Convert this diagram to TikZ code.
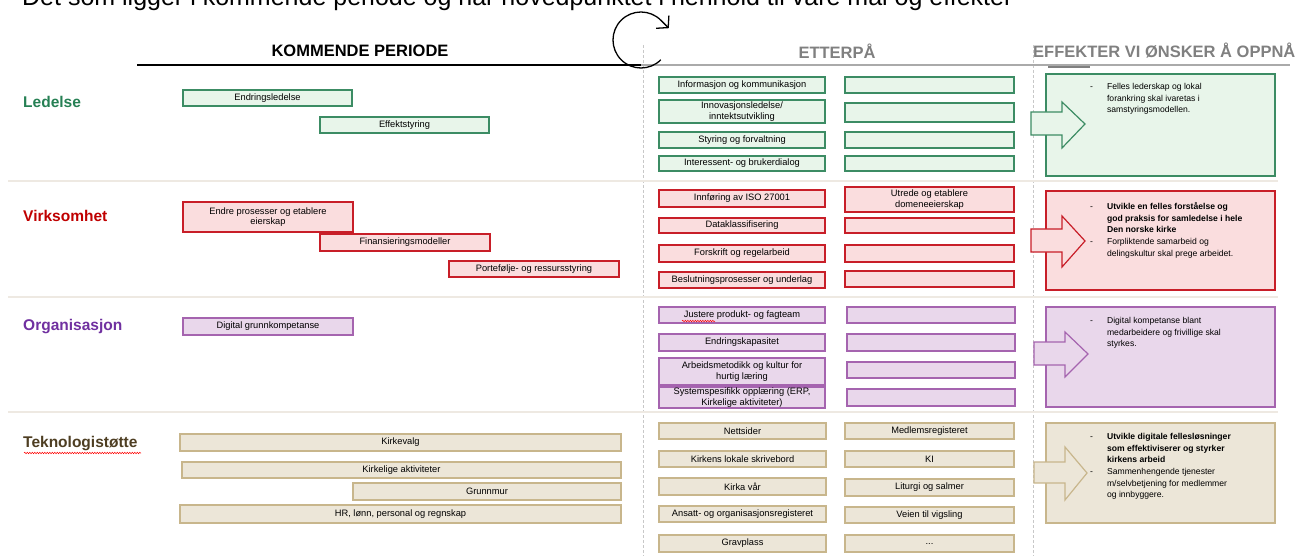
\documentclass[tikz,border=0pt]{standalone}
\usepackage{fontspec}
\setmainfont{Liberation Sans}
\usetikzlibrary{arrows.meta,decorations.pathmorphing}

\definecolor{ledgreen}{RGB}{38,128,84}
\definecolor{ledline}{RGB}{60,140,100}
\definecolor{ledfill}{RGB}{232,245,234}
\definecolor{virred}{RGB}{192,0,0}
\definecolor{virline}{RGB}{200,30,40}
\definecolor{virfill}{RGB}{250,221,222}
\definecolor{orgpurple}{RGB}{112,48,160}
\definecolor{orgline}{RGB}{165,100,175}
\definecolor{orgfill}{RGB}{233,215,235}
\definecolor{tekbrown}{RGB}{78,62,34}
\definecolor{tekline}{RGB}{200,182,140}
\definecolor{tekfill}{RGB}{236,230,216}
\definecolor{sepgray}{RGB}{238,233,226}
\definecolor{dashgray}{RGB}{200,200,200}
\definecolor{headgray}{RGB}{128,128,128}
\definecolor{linegray}{RGB}{170,170,170}

\tikzset{
  pbox/.style={draw, line width=1.2pt, anchor=north west, inner sep=0pt, outer sep=0pt,
    align=center, font=\fontsize{9.3}{10.8}\selectfont},
  gbox/.style={pbox, draw=ledline, fill=ledfill},
  rbox/.style={pbox, draw=virline, fill=virfill},
  pubox/.style={pbox, draw=orgline, fill=orgfill},
  tbox/.style={pbox, draw=tekline, fill=tekfill},
  effbox/.style={draw, line width=1.2pt, anchor=north west, inner sep=0pt, outer sep=0pt},
  efftext/.style={anchor=north west, inner sep=0pt, align=left, font=\fontsize{8.6}{11.7}\selectfont},
  rowlabel/.style={anchor=west, inner sep=0pt, font=\fontsize{15.5}{18}\selectfont\bfseries},
  header/.style={inner sep=0pt, font=\fontsize{16.5}{19}\selectfont\bfseries},
  sepline/.style={draw=sepgray, line width=2pt},
  vdash/.style={draw=dashgray, line width=0.8pt, dash pattern=on 3pt off 2pt},
  spell/.style={draw=red, line width=0.5pt, decorate, decoration={snake, amplitude=0.7pt, segment length=2.5pt}},
}

\begin{document}
\begin{tikzpicture}[x=1pt, y=-1pt]

	\fill[white] (0,0) rectangle (1301,556);
	\useasboundingbox (0,0) rectangle (1301,556);

	\node[anchor=base west, inner sep=0pt, font=\fontsize{25}{30}\selectfont] (title) at (22,6)
		{Det som ligger i kommende periode og når hovedpunktet i henhold til våre mål og effekter};

	\draw[vdash] (643,45) -- (643,556);
	\draw[vdash] (1033,45) -- (1033,556);

	\node[header] (kommende) at (360,51) {KOMMENDE PERIODE};
	\node[header, text=headgray] (etterpa) at (837,51) {ETTERPÅ};
	\node[header, text=headgray, anchor=west] (effekter) at (1033,51) {EFFEKTER VI ØNSKER Å OPPNÅ};

	\draw[line width=1.5pt] (137,65) -- (641,65);
	\draw[line width=1.5pt, draw=linegray] (641,65) -- (1290,65);
	\draw[line width=2pt, draw=gray] (1048,67) -- (1090,67);

	\draw[line width=1.3pt, -{Straight Barb[length=8pt,width=18pt]}]
		(641,40) ++(45:28) arc[start angle=45, end angle=315, radius=28] -- ++(8,8);

	\draw[sepline] (8,181) -- (1278,181);
	\draw[sepline] (8,297) -- (1278,297);
	\draw[sepline] (8,412) -- (1278,412);

	% Ledelse
	\node[rowlabel, text=ledgreen] (ledelse) at (23,102) {Ledelse};
	\node[gbox, minimum width=169, minimum height=16] (endr) at (183,90) {Endringsledelse};
	\node[gbox, minimum width=169, minimum height=16] (effs) at (320,117) {Effektstyring};
	\node[gbox, minimum width=166, minimum height=16] (info) at (659,77) {Informasjon og kommunikasjon};
	\node[gbox, minimum width=166, minimum height=23] (innov) at (659,100) {Innovasjonsledelse/\\inntektsutvikling};
	\node[gbox, minimum width=166, minimum height=16] (styr) at (659,132) {Styring og forvaltning};
	\node[gbox, minimum width=166, minimum height=15] (inter) at (659,156) {Interessent- og brukerdialog};
	\node[gbox, minimum width=169, minimum height=16] (led1) at (845,77) {};
	\node[gbox, minimum width=169, minimum height=19] (led2) at (845,103) {};
	\node[gbox, minimum width=169, minimum height=16] (led3) at (845,132) {};
	\node[gbox, minimum width=169, minimum height=15] (led4) at (845,156) {};
	\node[effbox, draw=ledline, fill=ledfill, minimum width=229, minimum height=102] (ledeff) at (1046,74) {};
	\draw[line width=1.2pt, draw=ledline, fill=ledfill] (1031,112) -- (1062,112) -- (1062,102) -- (1085,124)
		-- (1062,148) -- (1062,135) -- (1031,135) -- cycle;
	\node[efftext] (ledtxt) at (1090,81) {\begin{tabular}{@{}l@{\hspace{14pt}}l@{}}
		- & Felles lederskap og lokal\\
		  & forankring skal ivaretas i\\
		  & samstyringsmodellen.
		\end{tabular}};

	% Virksomhet
	\node[rowlabel, text=virred] (virksomhet) at (23,216) {Virksomhet};
	\node[rbox, minimum width=170, minimum height=30] (endre) at (183,202) {Endre prosesser og etablere\\eierskap};
	\node[rbox, minimum width=170, minimum height=17] (fin) at (320,234) {Finansieringsmodeller};
	\node[rbox, minimum width=170, minimum height=16] (port) at (449,261) {Portefølje- og ressursstyring};
	\node[rbox, minimum width=166, minimum height=17] (iso) at (659,190) {Innføring av ISO 27001};
	\node[rbox, minimum width=166, minimum height=15] (data) at (659,218) {Dataklassifisering};
	\node[rbox, minimum width=166, minimum height=17] (forsk) at (659,245) {Forskrift og regelarbeid};
	\node[rbox, minimum width=166, minimum height=16] (besl) at (659,272) {Beslutningsprosesser og underlag};
	\node[rbox, minimum width=169, minimum height=25] (utrede) at (845,187) {Utrede og etablere\\domeneeierskap};
	\node[rbox, minimum width=169, minimum height=15] (vir2) at (845,218) {};
	\node[rbox, minimum width=169, minimum height=17] (vir3) at (845,245) {};
	\node[rbox, minimum width=169, minimum height=16] (vir4) at (845,271) {};
	\node[effbox, draw=virline, fill=virfill, minimum width=229, minimum height=99] (vireff) at (1046,191) {};
	\draw[line width=1.2pt, draw=virline, fill=virfill] (1031,229) -- (1062,229) -- (1062,216) -- (1085,241)
		-- (1062,267) -- (1062,252) -- (1031,252) -- cycle;
	\node[efftext] (virtxt) at (1090,201) {\begin{tabular}{@{}l@{\hspace{14pt}}l@{}}
		- & \textbf{Utvikle en felles forståelse og}\\
		  & \textbf{god praksis for samledelse i hele}\\
		  & \textbf{Den norske kirke}\\
		- & Forpliktende samarbeid og\\
		  & delingskultur skal prege arbeidet.
		\end{tabular}};

	% Organisasjon
	\node[rowlabel, text=orgpurple] (organisasjon) at (23,327) {Organisasjon};
	\node[pubox, minimum width=170, minimum height=17] (digi) at (183,318) {Digital grunnkompetanse};
	\node[pubox, minimum width=166, minimum height=16] (just) at (659,307) {Justere produkt- og fagteam};
	\node[pubox, minimum width=166, minimum height=17] (endk) at (659,334) {Endringskapasitet};
	\node[pubox, minimum width=166, minimum height=27] (arb) at (659,358) {Arbeidsmetodikk og kultur for\\hurtig læring};
	\node[pubox, minimum width=166, minimum height=21] (sys) at (659,387) {Systemspesifikk opplæring (ERP,\\Kirkelige aktiviteter)};
	\node[pubox, minimum width=168, minimum height=16] (org1) at (847,307) {};
	\node[pubox, minimum width=168, minimum height=17] (org2) at (847,334) {};
	\node[pubox, minimum width=168, minimum height=16] (org3) at (847,362) {};
	\node[pubox, minimum width=168, minimum height=17] (org4) at (847,389) {};
	\node[effbox, draw=orgline, fill=orgfill, minimum width=229, minimum height=100] (orgeff) at (1046,307) {};
	\draw[line width=1.2pt, draw=orgline, fill=orgfill] (1034,342) -- (1065,342) -- (1065,332) -- (1088,354)
		-- (1065,377) -- (1065,365) -- (1034,365) -- cycle;
	\node[efftext] (orgtxt) at (1090,315) {\begin{tabular}{@{}l@{\hspace{14pt}}l@{}}
		- & Digital kompetanse blant\\
		  & medarbeidere og frivillige skal\\
		  & styrkes.
		\end{tabular}};
	\draw[spell] (682,321) -- (715,321);

	% Teknologistøtte
	\node[rowlabel, text=tekbrown] (teknologi) at (23,444) {Teknologistøtte};
	\draw[spell] (24,453) -- (141,453);
	\node[tbox, minimum width=441, minimum height=17] (kirv) at (180,434) {Kirkevalg};
	\node[tbox, minimum width=439, minimum height=16] (kirka) at (182,462) {Kirkelige aktiviteter};
	\node[tbox, minimum width=268, minimum height=17] (grunn) at (353,483) {Grunnmur};
	\node[tbox, minimum width=441, minimum height=18] (hr) at (180,505) {HR, lønn, personal og regnskap};
	\node[tbox, minimum width=167, minimum height=16] (nett) at (659,423) {Nettsider};
	\node[tbox, minimum width=167, minimum height=16] (skriv) at (659,451) {Kirkens lokale skrivebord};
	\node[tbox, minimum width=167, minimum height=17] (kvar) at (659,478) {Kirka vår};
	\node[tbox, minimum width=167, minimum height=16] (ansatt) at (659,506) {Ansatt- og organisasjonsregisteret};
	\node[tbox, minimum width=167, minimum height=17] (grav) at (659,535) {Gravplass};
	\node[tbox, minimum width=169, minimum height=16] (medl) at (845,423) {Medlemsregisteret};
	\node[tbox, minimum width=169, minimum height=16] (ki) at (845,451) {KI};
	\node[tbox, minimum width=169, minimum height=17] (lit) at (845,479) {Liturgi og salmer};
	\node[tbox, minimum width=169, minimum height=16] (veien) at (845,507) {Veien til vigsling};
	\node[tbox, minimum width=169, minimum height=17] (dots) at (845,535) {...};
	\node[effbox, draw=tekline, fill=tekfill, minimum width=229, minimum height=100] (tekeff) at (1046,423) {};
	\draw[line width=1.2pt, draw=tekline, fill=tekfill] (1034,462) -- (1065,462) -- (1065,447) -- (1087,473)
		-- (1065,500) -- (1065,483) -- (1034,483) -- cycle;
	\node[efftext] (tektxt) at (1090,431) {\begin{tabular}{@{}l@{\hspace{14pt}}l@{}}
		- & \textbf{Utvikle digitale fellesløsninger}\\
		  & \textbf{som effektiviserer og styrker}\\
		  & \textbf{kirkens arbeid}\\
		- & Sammenhengende tjenester\\
		  & m/selvbetjening for medlemmer\\
		  & og innbyggere.
		\end{tabular}};

\end{tikzpicture}
\end{document}
